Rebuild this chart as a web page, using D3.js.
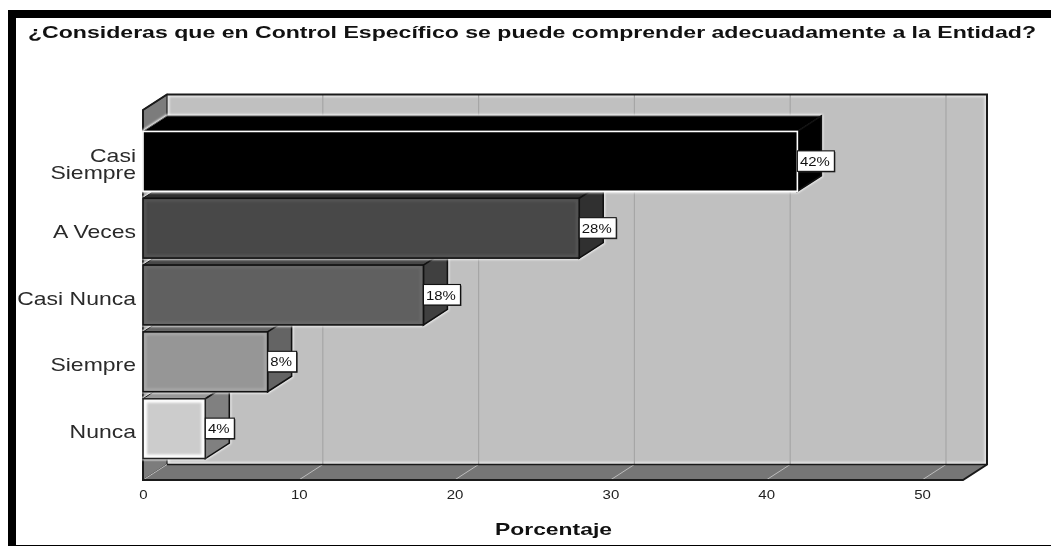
<!DOCTYPE html>
<html><head><meta charset="utf-8">
<script src="https://cdnjs.cloudflare.com/ajax/libs/d3/7.8.5/d3.min.js"></script>
<style>
html,body{margin:0;padding:0;background:#fff;overflow:hidden}
svg{display:block;font-family:"Liberation Sans",Arial,sans-serif;filter:blur(.4px)}
</style></head><body><svg id="c" width="1051" height="546"></svg>
<script>
const titleText = "¿Consideras que en Control Específico se puede comprender adecuadamente a la Entidad?";
const axisTitle = "Porcentaje";
const categories = ["Casi Siempre","A Veces","Casi Nunca","Siempre","Nunca"];
const percentages = [42,28,18,8,4];
const xTicks = [0,10,20,30,40,50];
const frontColors = ["#000000","#484848","#606060","#969696","#cccccc"];
const sideColors  = ["#000000","#303030","#404040","#646464","#808080"];
const topColors   = ["#000000","#303030","#484848","#646464","#969696"];
const glowColors  = ["#000000","#565656","#6c6c6c","#aaaaaa","#ffffff"];
const outlineColors = ["#ffffff","#111111","#111111","#111111","#222222"];

const svg = d3.select("#c");
const dx = 24, dy = 15.5;
const x = d3.scaleLinear().domain([0,50]).range([143,922]);
const y = d3.scaleBand().domain(categories).range([110,480]).paddingInner(7/67).paddingOuter(0.321);
const xEnd = 963, yTop = y.range()[0], yBot = y.range()[1], x0 = x(0);

const defs = svg.append("defs");
defs.append("filter").attr("id","soft").append("feGaussianBlur").attr("stdDeviation",1.1);
const clip = defs.append("clipPath").attr("id","wallClip");
clip.append("rect").attr("x",x0+dx).attr("y",yTop-dy).attr("width",xEnd-x0).attr("height",yBot-yTop);

// frame
svg.append("rect").attr("x",8).attr("y",10).attr("width",1043).attr("height",8).attr("fill","#000");
svg.append("rect").attr("x",8).attr("y",10).attr("width",8).attr("height",536).attr("fill","#000");
svg.append("rect").attr("x",8).attr("y",545).attr("width",1043).attr("height",1).attr("fill","#000");

// title
svg.append("text").text(titleText).attr("x",28).attr("y",38)
  .attr("font-size",17).attr("font-weight","bold").attr("fill","#111")
  .attr("textLength",1008).attr("lengthAdjust","spacingAndGlyphs");

// back wall
const wall = svg.append("g");
wall.append("rect").attr("x",x0+dx).attr("y",yTop-dy).attr("width",xEnd-x0).attr("height",yBot-yTop).attr("fill","#c0c0c0");
wall.append("rect").attr("x",x0+dx+1).attr("y",yTop-dy+1).attr("width",xEnd-x0-2).attr("height",yBot-yTop-2)
  .attr("fill","none").attr("stroke","#e8e8e8").attr("stroke-width",3).attr("filter","url(#soft)").attr("clip-path","url(#wallClip)");
wall.append("line").attr("x1",x0+dx).attr("x2",xEnd+dx).attr("y1",yBot-dy-2).attr("y2",yBot-dy-2)
  .attr("stroke","#fff").attr("stroke-width",3.5).attr("filter","url(#soft)");
wall.selectAll("line.grid").data(xTicks.slice(1)).join("line").attr("class","grid")
  .attr("x1",d=>x(d)+dx).attr("x2",d=>x(d)+dx).attr("y1",yTop-dy).attr("y2",yBot-dy)
  .attr("stroke","#a6a6a6").attr("stroke-width",1.2);

// left wall and floor
const poly = pts => pts.map(p=>p.join(",")).join(" ");
wall.append("polygon").attr("points",poly([[x0,yTop],[x0+dx,yTop-dy],[x0+dx,yBot-dy],[x0,yBot]]))
  .attr("fill","#7c7c7c").attr("stroke","#222").attr("stroke-width",1.2);
wall.append("polygon").attr("points",poly([[x0,yBot],[x0+dx,yBot-dy],[xEnd+dx,yBot-dy],[xEnd,yBot]]))
  .attr("fill","#767676");
wall.selectAll("line.floor").data(xTicks).join("line").attr("class","floor")
  .attr("x1",d=>x(d)).attr("x2",d=>x(d)+dx).attr("y1",yBot).attr("y2",yBot-dy)
  .attr("stroke","#bdbdbd").attr("stroke-width",1);
wall.append("path").attr("d",`M${x0+dx},${yTop-dy}H${xEnd+dx}V${yBot-dy}L${xEnd},${yBot}H${x0}V${yTop}Z`)
  .attr("fill","none").attr("stroke","#1a1a1a").attr("stroke-width",2);
wall.append("line").attr("x1",x0+dx).attr("x2",xEnd+dx).attr("y1",yBot-dy).attr("y2",yBot-dy).attr("stroke","#1a1a1a").attr("stroke-width",1.6);

// bars, from the lowest up, so that each one overlaps the top face of the next
const rows = categories.map((c,i)=>({c,i,v:percentages[i]})).reverse();
const bars = svg.selectAll("g.bar").data(rows).join("g").attr("class","bar");
const bw = y.bandwidth();
// halo on the wall
bars.append("path").attr("d",d=>{
    const X=x(d.v),T=y(d.c),B=T+bw;
    return `M${x0},${T}L${x0+dx},${T-dy}H${X+dx}V${B-dy}L${X},${B}H${x0}Z`;})
  .attr("fill","none").attr("stroke","#fff").attr("stroke-width",3).attr("filter","url(#soft)");
// top
bars.append("polygon").attr("points",d=>{
    const X=x(d.v),T=y(d.c);
    return poly([[x0,T],[x0+dx,T-dy],[X+dx,T-dy],[X,T]]);})
  .attr("fill",d=>topColors[d.i]).attr("stroke",d=>d.i===0?"#666":"#111").attr("stroke-width",1);
// side
bars.append("polygon").attr("points",d=>{
    const X=x(d.v),T=y(d.c),B=T+bw;
    return poly([[X,T],[X+dx,T-dy],[X+dx,B-dy],[X,B]]);})
  .attr("fill",d=>sideColors[d.i]).attr("stroke","#111").attr("stroke-width",1.6);
// front
bars.append("rect").attr("x",x0).attr("y",d=>y(d.c)).attr("width",d=>x(d.v)-x0).attr("height",bw)
  .attr("fill",d=>frontColors[d.i]);
bars.filter(d=>d.i>0).append("rect").attr("x",x0+2).attr("y",d=>y(d.c)+2).attr("width",d=>x(d.v)-x0-4).attr("height",bw-4)
  .attr("fill","none").attr("stroke",d=>glowColors[d.i]).attr("stroke-width",d=>d.i===4?4:2.5).attr("filter","url(#soft)");
bars.append("rect").attr("x",x0).attr("y",d=>y(d.c)).attr("width",d=>x(d.v)-x0).attr("height",bw)
  .attr("fill","none").attr("stroke",d=>outlineColors[d.i]).attr("stroke-width",1.6);

// x axis
const ax = svg.append("g").attr("transform",`translate(0,${yBot})`)
  .call(d3.axisBottom(x).tickValues(xTicks).tickSize(0).tickPadding(0));
ax.select(".domain").remove();
ax.selectAll("text").attr("y",19).attr("dy",0).attr("font-size",12).attr("fill","#222")
  .attr("font-family","'Liberation Sans',Arial,sans-serif").attr("transform","scale(1.25,1)");

// category axis
const ay = svg.append("g").attr("transform",`translate(136,0)`)
  .call(d3.axisLeft(y).tickSize(0).tickPadding(0));
ay.select(".domain").remove();
ay.selectAll("text").each(function(d){
  const t = d3.select(this).text("").attr("x",0).attr("dy",0).attr("y",0)
    .attr("font-size",19).attr("fill","#2a2a2a")
    .attr("font-family","'Liberation Sans',Arial,sans-serif").attr("text-anchor","end")
    .attr("transform","scale(1.21,1)");
  const lines = d==="Casi Siempre" ? d.split(" ") : [d];
  const first = lines.length===1 ? 9.5 : 1;
  lines.forEach((l,i)=>t.append("tspan").attr("x",0).attr("y",first+i*17).text(l));
});

// value labels
const labelW = v => v>=10 ? 37 : 29;
const lab = svg.selectAll("g.lab").data(rows).join("g").attr("class","lab")
  .attr("transform",d=>`translate(${x(d.v)},${y(d.c)+bw/2})`);
lab.append("rect").attr("x",1).attr("y",-9.5).attr("width",d=>labelW(d.v)).attr("height",20.5)
  .attr("fill","#333");
lab.append("rect").attr("x",0).attr("y",-10.5).attr("width",d=>labelW(d.v)).attr("height",20.5)
  .attr("fill","#fff").attr("stroke","#111").attr("stroke-width",1.1);
lab.append("text").text(d=>d.v+"%").attr("x",d=>(labelW(d.v)/2-1)/1.15).attr("y",4.5)
  .attr("text-anchor","middle").attr("font-size",13).attr("fill","#111").attr("transform","scale(1.15,1)");

// axis title
svg.append("text").text(axisTitle).attr("x",495).attr("y",535)
  .attr("font-size",17).attr("font-weight","bold").attr("fill","#111")
  .attr("textLength",117).attr("lengthAdjust","spacingAndGlyphs");
</script></body></html>
